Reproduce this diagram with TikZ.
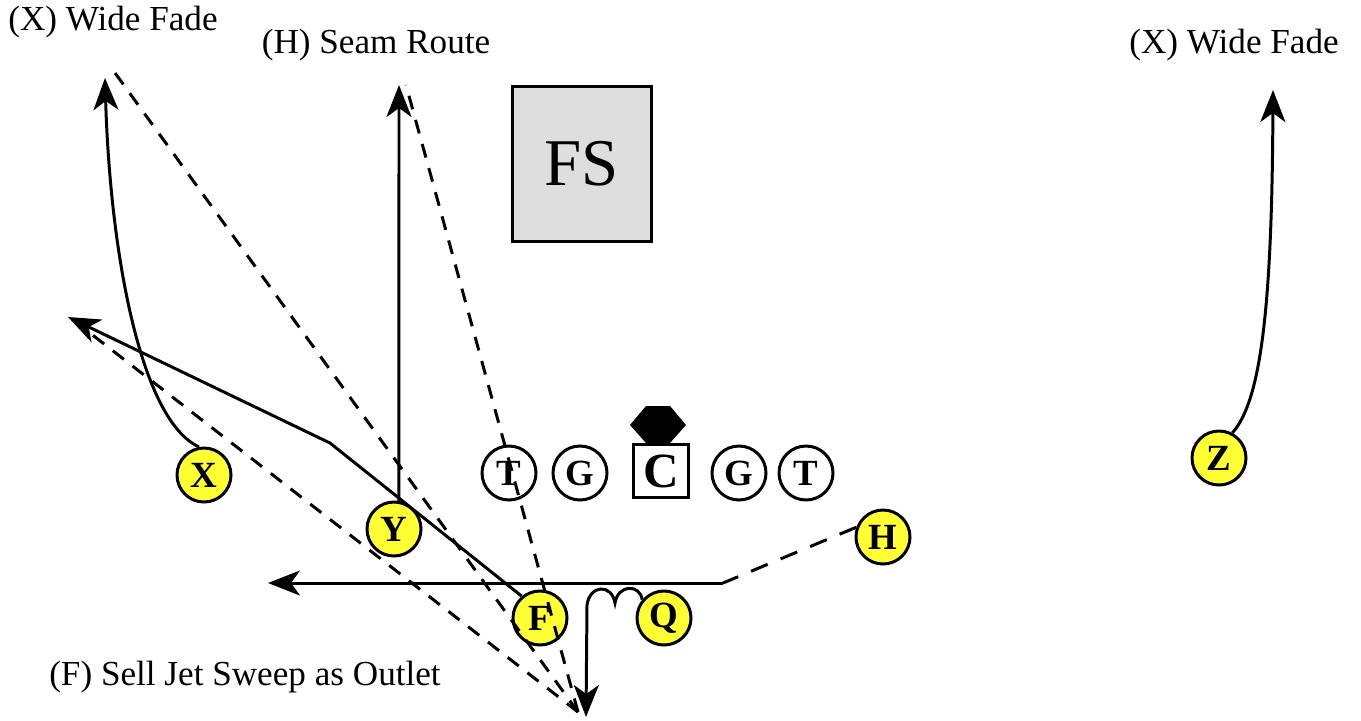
\documentclass[tikz,border=0pt]{standalone}
\usepackage{fontspec}
\setmainfont{Liberation Serif}[Extension=.ttf, UprightFont=LiberationSerif-Regular, BoldFont=LiberationSerif-Bold]
\usetikzlibrary{arrows.meta, positioning, calc}
\definecolor{skill}{RGB}{255,255,51}
\definecolor{fsgray}{RGB}{222,222,222}

\begin{document}
\begin{tikzpicture}[x=0.1mm, y=-0.1mm, line width=0.85pt,
        >={Stealth[length=3.2mm, width=2.5mm, inset=0.9mm]},
        player/.style={circle, draw, fill=skill, minimum size=5.4mm, inner sep=0pt,
            font=\fontsize{10.5}{10.5}\selectfont\bfseries},
        lineman/.style={player, fill=white},
        pass/.style={dash pattern=on 1.4mm off 1.1mm},
        motion/.style={dash pattern=on 1.8mm off 1.4mm},
        routetext/.style={font=\fontsize{10}{12}\selectfont}]
        \useasboundingbox (0,0) rectangle (1361,720);

        % offensive line
        \node[lineman] (lt) at (509,473) {T};
        \node[lineman] (lg) at (580,473) {G};
        \node[draw, minimum width=5.5mm, minimum height=5.3mm, inner sep=0pt,
            font=\fontsize{14}{14}\selectfont\bfseries] (C) at (661,471) {C};
        \node[lineman] (rg) at (739,473) {G};
        \node[lineman] (rt) at (806,473) {T};

        % skill players
        \foreach \name/\px/\py in {X/204/475, Y/394/529, F/540/618, Q/664/618, H/883/537, Z/1219/458}
            \node[player] (\name) at (\px,\py) {\name};

        % defense
        \node[draw, fill=fsgray, line width=1pt, minimum width=13.9mm, minimum height=15.5mm,
            font=\fontsize{19}{19}\selectfont] (FS) at (582,164) {FS};
        \fill (630,425) -- (646,406) -- (670,406) -- (686,425) -- (670,443) -- (646,443) -- cycle;

        % route ends
        \coordinate (xfade) at (105,78);
        \coordinate (seam) at (399,85);
        \coordinate (zfade) at (1273,90);
        \coordinate (fbend) at (330,443);
        \coordinate (fout) at (68,317);
        \coordinate (hjet) at (723,583);
        \coordinate (jetend) at (268,583);
        \coordinate (drop) at (586,717);
        \coordinate (qb) at (578,712); % throwing spot
        \coordinate (px) at (110,66);
        \coordinate (ps) at (406,85);
        \coordinate (pf) at (90,333);

        % routes
        \draw[->] (X.100) .. controls (140,420) and (110,250) .. (xfade);
        \draw[->] (Z.62) .. controls (1262,400) and (1272,300) .. (zfade);
        \draw[->] (Y.80) -- (seam);
        \draw[->] (F.130) -- (fbend) -- (fout);
        \draw[motion] (H.160) -- (hjet);
        \draw[->] (hjet) -- (jetend);
        \draw[->] (Q.140) .. controls (640,584) and (618,584) .. (615,603)
            .. controls (612,584) and (590,584) .. (587,605) -- (drop);

        % passing lanes
        \foreach \t in {px, ps, pf}
            \draw[pass] (qb) -- (\t);

        % labels
        \node[routetext] (xlabel) at (113,22) {(X) Wide Fade};
        \node[routetext] (hlabel) at (376,45) {(H) Seam Route};
        \node[routetext] (zlabel) at (1234,45) {(X) Wide Fade};
        \node[routetext] (flabel) at (245,677) {(F) Sell Jet Sweep as Outlet};
    \end{tikzpicture}
\end{document}
